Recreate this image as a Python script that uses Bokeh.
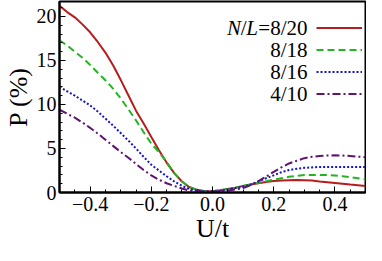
from bokeh.plotting import figure
from bokeh.models import Range1d, FixedTicker, Legend, LegendItem, Label
from bokeh.embed import file_html
from bokeh.resources import INLINE

# ---- data ----
u = [-0.5, -0.475, -0.45, -0.425, -0.4, -0.375, -0.35, -0.325, -0.3, -0.275,
     -0.25, -0.225, -0.2, -0.175, -0.15, -0.125, -0.1, -0.075, -0.05, -0.025,
     0.0, 0.025, 0.05, 0.075, 0.1, 0.125, 0.15, 0.175, 0.2, 0.225,
     0.25, 0.275, 0.3, 0.325, 0.35, 0.375, 0.4, 0.425, 0.45, 0.475, 0.5]
p_8_20 = [21.2, 20.5, 19.9, 19.1, 18.2, 17.1, 15.9, 14.45, 12.8, 11.05,
          9.3, 7.85, 6.3, 4.8, 3.4, 2.2, 1.25, 0.6, 0.3, 0.15,
          0.15, 0.25, 0.4, 0.55, 0.75, 0.9, 1.05, 1.2, 1.3, 1.37,
          1.4, 1.42, 1.4, 1.35, 1.25, 1.17, 1.08, 1.0, 0.9, 0.82, 0.75]
p_8_18 = [17.3, 16.7, 16.0, 15.3, 14.5, 13.6, 12.75, 11.8, 10.7, 9.45,
          8.2, 6.85, 5.55, 4.6, 3.45, 2.2, 1.25, 0.6, 0.3, 0.15,
          0.15, 0.25, 0.4, 0.55, 0.75, 0.92, 1.1, 1.28, 1.45, 1.62,
          1.78, 1.9, 1.98, 2.0, 2.0, 1.98, 1.93, 1.85, 1.75, 1.63, 1.48]
p_8_16 = [12.0, 11.5, 11.0, 10.45, 9.9, 9.2, 8.4, 7.6, 6.75, 5.9,
          5.0, 4.05, 3.15, 2.5, 1.85, 1.25, 0.75, 0.4, 0.2, 0.12,
          0.12, 0.2, 0.35, 0.5, 0.65, 0.9, 1.25, 1.62, 1.95, 2.3,
          2.55, 2.7, 2.8, 2.85, 2.9, 2.9, 2.9, 2.9, 2.9, 2.9, 2.9]
p_4_10 = [9.4, 8.95, 8.5, 7.95, 7.35, 6.7, 6.0, 5.3, 4.6, 3.95,
          3.25, 2.55, 1.95, 1.45, 1.05, 0.75, 0.45, 0.22, 0.12, 0.1,
          0.1, 0.12, 0.2, 0.35, 0.5, 0.85, 1.3, 1.8, 2.35, 2.85,
          3.3, 3.6, 3.9, 4.05, 4.15, 4.2, 4.22, 4.2, 4.15, 4.08, 4.0]
series = [p_8_20, p_8_18, p_8_16, p_4_10]
series_labels = ["8/20", "8/18", "8/16", "4/10"]
x_ticks = [-0.4, -0.2, 0.0, 0.2, 0.4]
x_tick_labels = ["\u22120.4", "\u22120.2", "0.0", "0.2", "0.4"]
x_minor = [-0.5, -0.45, -0.4, -0.35, -0.3, -0.25, -0.2, -0.15, -0.1, -0.05, 0.0,
           0.05, 0.1, 0.15, 0.2, 0.25, 0.3, 0.35, 0.4, 0.45, 0.5]
y_ticks = [0, 5, 10, 15, 20]
y_tick_labels = ["0", "5", "10", "15", "20"]
y_minor = list(range(0, 22))

# ---- styles ----
colors = ["#B41E1E", "#22B422", "#1414CC", "#5E1470"]
dashes = ["solid", "7 4", "2 2", "8 3 2 3"]
FONT = "Liberation Serif"

p = figure(width=366, height=245, x_range=Range1d(-0.5, 0.5), y_range=Range1d(0, 21.7),
           output_backend="svg", toolbar_location=None,
           min_border_left=50, min_border_right=1, min_border_top=1, min_border_bottom=50)
p.grid.visible = False
p.outline_line_color = "black"
p.outline_line_width = 2
p.background_fill_color = "white"
p.border_fill_color = "white"

p.xaxis.ticker = FixedTicker(ticks=x_ticks, minor_ticks=x_minor)
p.yaxis.ticker = FixedTicker(ticks=y_ticks, minor_ticks=y_minor)
p.xaxis.major_label_overrides = {t: l for t, l in zip(x_ticks, x_tick_labels)}
p.yaxis.major_label_overrides = {t: l for t, l in zip(y_ticks, y_tick_labels)}
p.xaxis.axis_label = "U/t"
p.yaxis.axis_label = "P (%)"
for ax in (p.xaxis, p.yaxis):
    ax.axis_line_width = 2
    ax.axis_line_color = "black"
    ax.major_tick_in = 6
    ax.major_tick_out = 0
    ax.minor_tick_in = 3
    ax.minor_tick_out = 0
    ax.major_tick_line_color = "black"
    ax.minor_tick_line_color = "black"
    ax.major_label_text_font = FONT
    ax.major_label_text_font_size = "20px"
    ax.major_label_text_color = "black"
    ax.axis_label_text_font = FONT
    ax.axis_label_text_font_size = "26px"
    ax.axis_label_text_font_style = "normal"
    ax.axis_label_text_color = "black"
p.yaxis.major_label_standoff = 3
p.yaxis.axis_label_standoff = 1
p.xaxis.major_label_standoff = 4
p.xaxis.axis_label_standoff = 0

renderers = []
for ys, c, d in zip(series, colors, dashes):
    r = p.line(u, ys, line_color=c, line_width=2, line_dash=d, line_join="round")
    renderers.append(r)

row_y = [165, 143, 121, 99]
items = [LegendItem(label="", renderers=[r]) for r in renderers]
legend = Legend(items=items, location=(257, 88), glyph_width=46,
                glyph_height=21, label_width=0, label_height=21, label_standoff=0,
                spacing=1, padding=0, margin=0, border_line_alpha=0,
                background_fill_alpha=0, label_text_font_size="1px")
p.add_layout(legend)

# legend texts (right-aligned, left of the line samples)
fs = "21px"
tx = 248
for lbl, yy in zip(series_labels, row_y):
    p.add_layout(Label(x=tx, y=yy, x_units="screen", y_units="screen", text=lbl,
                       text_align="right", text_baseline="middle",
                       text_font=FONT, text_font_size=fs, text_color="black"))
# "N/L=" prefix on first row
prefix = [("=", tx - 37.5, "normal"), ("L", tx - 49.5, "italic"),
          ("/", tx - 61.0, "normal"), ("N", tx - 66.5, "italic")]
for t, xx, st in prefix:
    p.add_layout(Label(x=xx, y=row_y[0], x_units="screen", y_units="screen", text=t,
                       text_align="right", text_baseline="middle",
                       text_font=FONT, text_font_size=fs, text_font_style=st,
                       text_color="black"))

open("out.html", "w").write(file_html(p, INLINE))
